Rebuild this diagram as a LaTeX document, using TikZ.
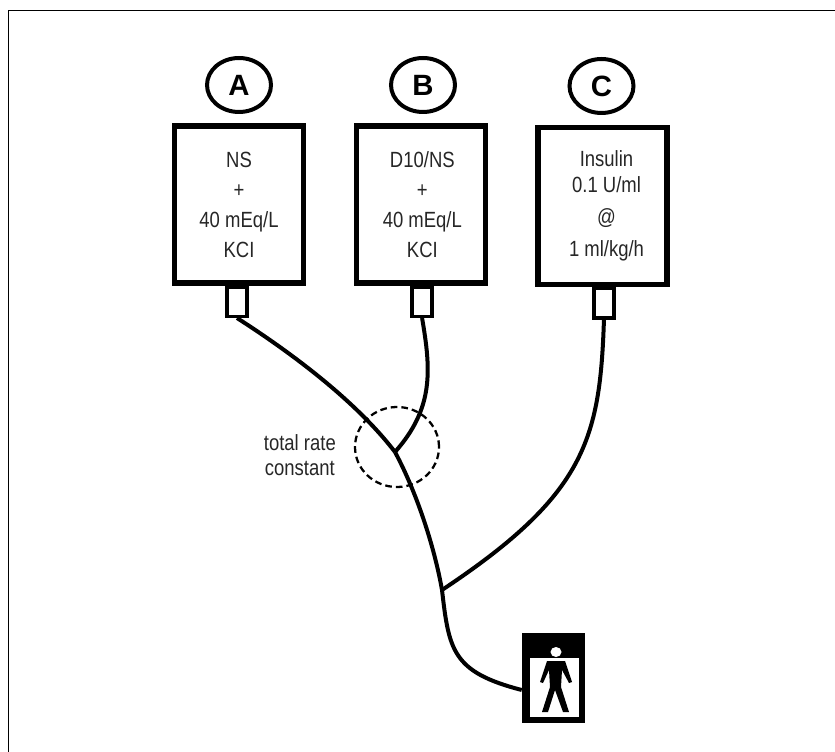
\documentclass[tikz,border=0pt]{standalone}
\usepackage{fontspec}
\setmainfont{Liberation Sans}
\newfontfamily\narrowfont[FakeStretch=0.84]{Liberation Sans}
\usetikzlibrary{positioning,shapes.geometric}
\tikzset{
  bag/.style={draw, line width=3.8pt, minimum width=129pt*0.75, minimum height=157pt*0.75},
  dose/.style={align=center, text=black!85, font=\narrowfont\fontsize{16.5}{22.5}\selectfont},
  port/.style={draw, line width=2.6pt, minimum width=20pt*0.75, minimum height=29pt*0.75, inner sep=0pt},
  badge/.style={draw, ellipse, line width=3pt, minimum width=64pt*0.75, minimum height=54pt*0.75, inner sep=0pt, font=\fontsize{22}{22}\selectfont\bfseries},
  tube/.style={line width=3pt},
  note/.style={text=black!85, font=\narrowfont\fontsize{16.5}{18.75}\selectfont, align=center}
}
\begin{document}
\begin{tikzpicture}[x=0.75pt, y=-0.75pt, node distance=0pt]
  \useasboundingbox (0,0) rectangle (835,752);
  \draw[line width=1.2pt] (8.5,752) -- (8.5,10.5) -- (835,10.5);

  % Bags
  \node[bag] (bagA) at (239,204.5) {};
  \node[bag] (bagB) at (421,204.5) {};
  \node[bag] (bagC) at (602.5,206) {};

  \node[dose] (doseA) at (bagA.center) {NS\\+\\40 mEq/L\\KCI};
  \node[dose] (doseB) at ([xshift=1pt]bagB.center) {D10/NS\\+\\40 mEq/L\\KCI};
  \node[dose] (doseC) at ([xshift=3pt]bagC.center) {Insulin\\[-3pt]0.1 U/ml\\[1.5pt]@\\[1.5pt]1 ml/kg/h};

  \node[port, below=of bagA, xshift=-1.5pt] (portA) {};
  \node[port, below=of bagB, xshift=0.8pt] (portB) {};
  \node[port, below=of bagC, xshift=1.1pt] (portC) {};

  \node[badge] (labelA) at (239,85) {A};
  \node[badge] (labelB) at (423,85) {B};
  \node[badge] (labelC) at (601.5,86) {C};

  % Patient
  \node[fill=black, minimum width=63pt*0.75, minimum height=90pt*0.75, inner sep=0pt] (patient) at (553.5,678) {};
  \node[fill=white, minimum width=49pt*0.75, minimum height=59pt*0.75, inner sep=0pt] (frame) at (554.5,687.5) {};
  \node[fill=white, ellipse, minimum width=11pt*0.75, minimum height=10pt*0.75, inner sep=0pt] (head) at (556,652) {};
  \fill (547,661) -- (565,661) -- (572,682) -- (569,683) -- (562,670) -- (561,687) -- (569,712) -- (563,712) -- (555,690)
    -- (548,712) -- (542,712) -- (550,687) -- (549,670) -- (543,683) -- (540,682) -- cycle;

  % Junctions
  \coordinate (joinB) at (395,452);
  \coordinate (joinC) at (442,590);

  \draw[tube] (portA.south) .. controls (290,352) and (355,400) .. (joinB);
  \draw[tube] (portB.south) .. controls (431,370) and (434,408) .. (joinB);
  \draw[tube] (joinB) .. controls (418,495) and (435,550) .. (joinC);
  \draw[tube] (joinC) .. controls (449,650) and (452,672) .. (patient.west |- 0,690);
  \draw[tube] (portC.south) .. controls (600,440) and (585,495) .. (joinC);

  % Rate circle
  \node[draw, dash pattern=on 5pt off 3pt, ellipse, line width=1.7pt, minimum width=84pt*0.75, minimum height=80pt*0.75] (rate) at (397,447) {};
  \node[note, left=10pt of rate, yshift=-6pt] (ratelabel) {total rate\\constant};
\end{tikzpicture}
\end{document}
